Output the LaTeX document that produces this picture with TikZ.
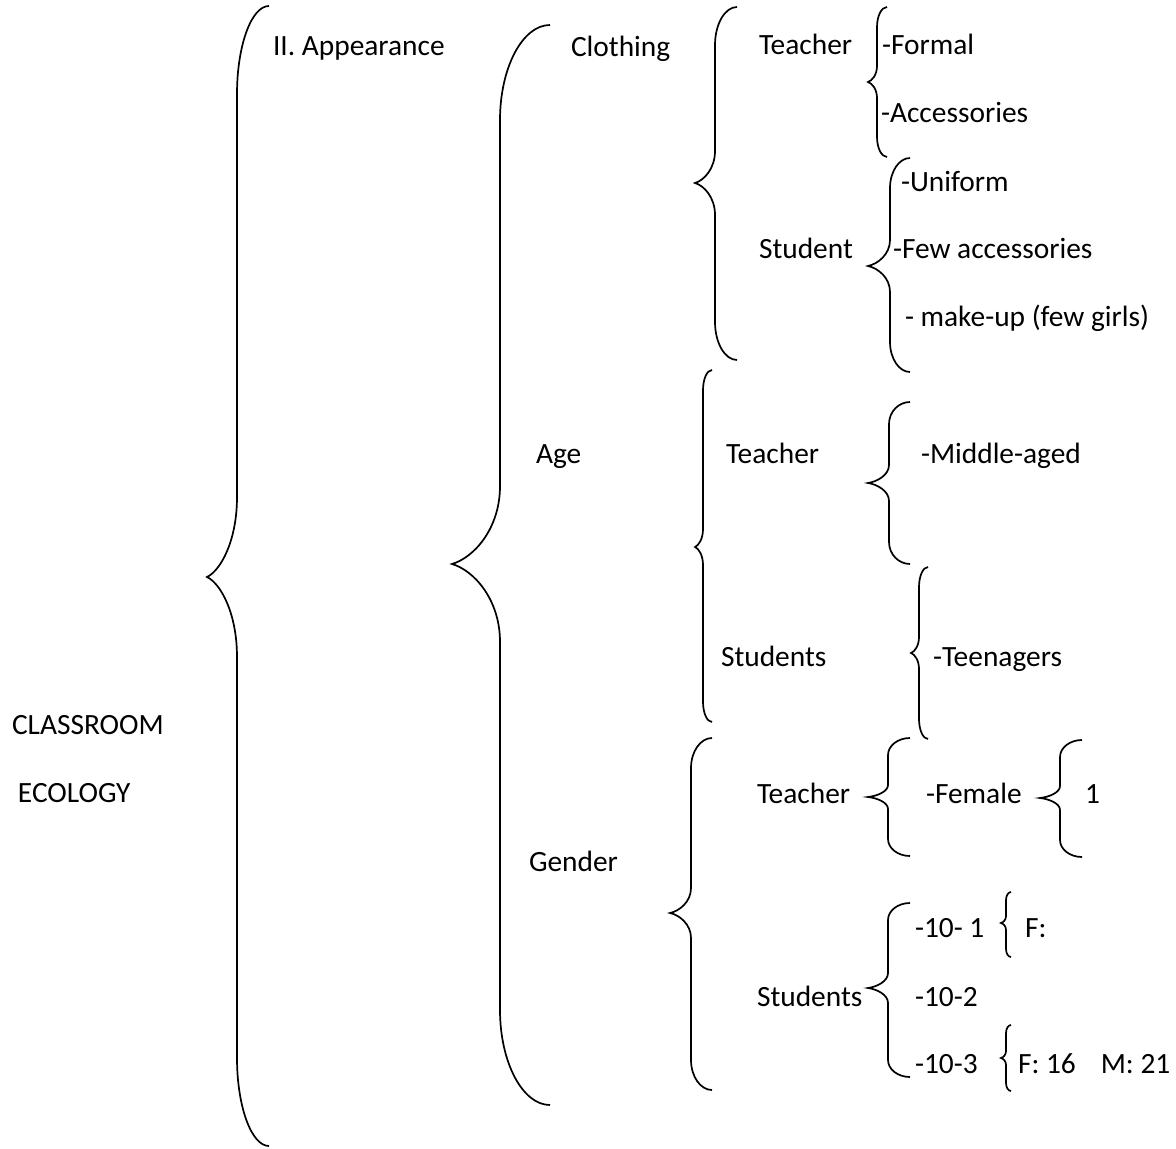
\documentclass[tikz,border=0pt]{standalone}
\usepackage{fontspec}
\setmainfont{Carlito}
\newcommand\cbr[8]{%
  \draw[bracel] (#1,#4) .. controls ({#1-0.55*(#1-#2)},#4) and (#2,{#4+0.45*#7}) .. (#2,{#4+#7})
   -- (#2,{#5-#8}) .. controls (#2,{#5-0.45*#8}) and ({#3+0.45*(#2-#3)},{#5-0.08*#8}) .. (#3,#5)
   .. controls ({#3+0.45*(#2-#3)},{#5+0.08*#8}) and (#2,{#5+0.45*#8}) .. (#2,{#5+#8})
   -- (#2,{#6-#7}) .. controls (#2,{#6-0.45*#7}) and ({#1-0.55*(#1-#2)},#6) .. (#1,#6);}
\begin{document}
\begin{tikzpicture}[x=0.5pt,y=-0.5pt,
  bracel/.style={line width=0.85pt,black},
  lbl/.style={anchor=base west,inner sep=0pt,outer sep=0pt,font=\fontsize{14.7pt}{17pt}\selectfont}]
\useasboundingbox (0,0) rectangle (1176,1149);
% braces
\cbr{269}{237}{207}{6}{577}{1146}{88}{80}
\cbr{550}{500}{452}{25}{564}{1105}{95}{78}
\cbr{737}{715}{695}{7}{183}{360}{38}{32}
\cbr{887}{877}{868}{7}{82}{157}{20}{16}
\cbr{910}{890}{868}{158}{266}{372}{30}{26}
\cbr{712}{703}{695}{370}{547}{722}{20}{18}
\cbr{910}{889}{868}{402}{483}{564}{22}{18}
\cbr{928}{919}{911}{567}{653}{739}{20}{16}
\cbr{712}{691}{670}{738}{913}{1090}{30}{25}
\cbr{910}{888}{868}{738}{797}{856}{17}{12}
\cbr{1082}{1060}{1040}{740}{798}{857}{17}{12}
\cbr{910}{888}{868}{903}{988}{1077}{17}{15}
\cbr{1011}{1006}{1001}{892}{923}{957}{8}{7}
\cbr{1011}{1006}{1001}{1025}{1058}{1091}{8}{7}
% texts
\node[lbl] (classroom) at (12,734) {CLASSROOM};
\node[lbl] (ecology) at (18,802) {ECOLOGY};
\node[lbl] (appearance) at (273,56) {II. Appearance};
\node[lbl] (clothing) at (571,57) {Clothing};
\node[lbl] (age) at (536,463) {Age};
\node[lbl] (gender) at (529,871) {Gender};
\node[lbl] (ctea) at (759,55) {Teacher};
\node[lbl] (cstu) at (759,259) {Student};
\node[lbl] (formal) at (882,55) {-Formal};
\node[lbl] (acc) at (881,123) {-Accessories};
\node[lbl] (uniform) at (901,192) {-Uniform};
\node[lbl] (fewacc) at (893,259) {-Few accessories};
\node[lbl] (makeup) at (905,327) {- make-up (few girls)};
\node[lbl] (atea) at (726,463) {Teacher};
\node[lbl] (astu) at (721,666) {Students};
\node[lbl] (middle) at (921,463) {-Middle-aged};
\node[lbl] (teen) at (933,666) {-Teenagers};
\node[lbl] (gtea) at (757,803) {Teacher};
\node[lbl] (gstu) at (757,1006) {Students};
\node[lbl] (female) at (926,803) {-Female};
\node[lbl] (one) at (1085,803) {1};
\node[lbl] (c101) at (915,937) {-10- 1};
\node[lbl] (c102) at (915,1006) {-10-2};
\node[lbl] (c103) at (915,1073) {-10-3};
\node[lbl] (f1) at (1025,937) {F:};
\node[lbl] (f3) at (1018,1073) {F: 16\hspace{12.5pt}M: 21};
\end{tikzpicture}
\end{document}
